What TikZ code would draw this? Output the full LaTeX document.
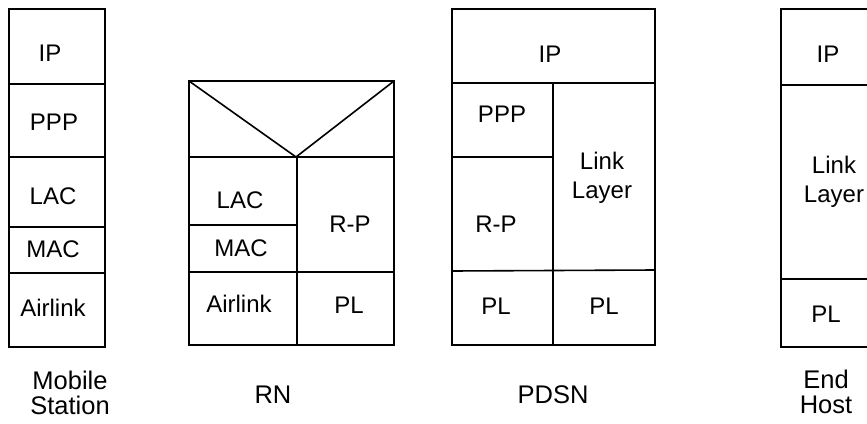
\documentclass[tikz,border=0pt]{standalone}
\usepackage{fontspec}
\setmainfont{Liberation Sans}
\begin{document}
\begin{tikzpicture}[x=1pt,y=-1pt,
  frame/.style={draw=black,line width=1.6pt},
  rule/.style={draw=black,line width=1.6pt},
  lay/.style={inner sep=0pt,anchor=base,font=\fontsize{24}{29}\selectfont},
  lay2/.style={inner sep=0pt,anchor=center,align=center,font=\fontsize{24}{29}\selectfont},
  devname/.style={inner sep=0pt,anchor=center,align=center,font=\fontsize{25.5}{24.5}\selectfont}]
\useasboundingbox (0,0) rectangle (867,423);
\begin{scope}
\clip (0,0) rectangle (867,423);
% Mobile Station stack
\draw[frame] (9,9) rectangle (105,347);
\draw[rule] (9,84) -- (105,84);
\draw[rule] (9,157) -- (105,157);
\draw[rule] (9,227) -- (105,227);
\draw[rule] (9,273) -- (105,273);
% RN stack
\draw[frame] (189,81) rectangle (394,345);
\draw[rule] (189,81) -- (296,157) -- (394,81);
\draw[rule] (189,157) -- (394,157);
\draw[rule] (297,157) -- (297,345);
\draw[rule] (189,225) -- (297,225);
\draw[rule] (189,272) -- (394,272);
% PDSN stack
\draw[frame] (452,9) rectangle (655,345);
\draw[rule] (452,83) -- (655,83);
\draw[rule] (553,83) -- (553,345);
\draw[rule] (452,157) -- (553,157);
\draw[rule] (452,271) -- (655,270);
% End Host stack (cut by the right edge)
\draw[frame] (781,9) rectangle (890,347);
\draw[rule] (781,85) -- (890,85);
\draw[rule] (781,279) -- (890,279);
\end{scope}
% Mobile Station labels
\node[lay] (msip) at (50,61) {IP};
\node[lay] (msppp) at (54,130) {PPP};
\node[lay] (mslac) at (53,204) {LAC};
\node[lay] (msmac) at (53,257) {MAC};
\node[lay] (msair) at (53,316) {Airlink};
\node[devname] (mscap) at (70,393) {Mobile\\Station};
% RN labels
\node[lay] (rnlac) at (240,208) {LAC};
\node[lay] (rnmac) at (241,256) {MAC};
\node[lay] (rnair) at (239,312) {Airlink};
\node[lay] (rnrp) at (350,232) {R-P};
\node[lay] (rnpl) at (349,313) {PL};
\node[lay,font=\fontsize{25.5}{24.5}\selectfont] (rncap) at (273,403) {RN};
% PDSN labels
\node[lay] (pdip) at (550,62) {IP};
\node[lay] (pdppp) at (502,122) {PPP};
\node[lay] (pdrp) at (496,232) {R-P};
\node[lay2] (pdll) at (602,178) {Link\\Layer};
\node[lay] (pdpl1) at (496,314) {PL};
\node[lay] (pdpl2) at (604,314) {PL};
\node[lay,font=\fontsize{25.5}{24.5}\selectfont] (pdcap) at (553,403) {PDSN};
% End Host labels
\node[lay] (ehip) at (828,62) {IP};
\node[lay2] (ehll) at (834,182) {Link\\Layer};
\node[lay] (ehpl) at (826,322) {PL};
\node[devname] (ehcap) at (826,392) {End\\Host};
\end{tikzpicture}
\end{document}
